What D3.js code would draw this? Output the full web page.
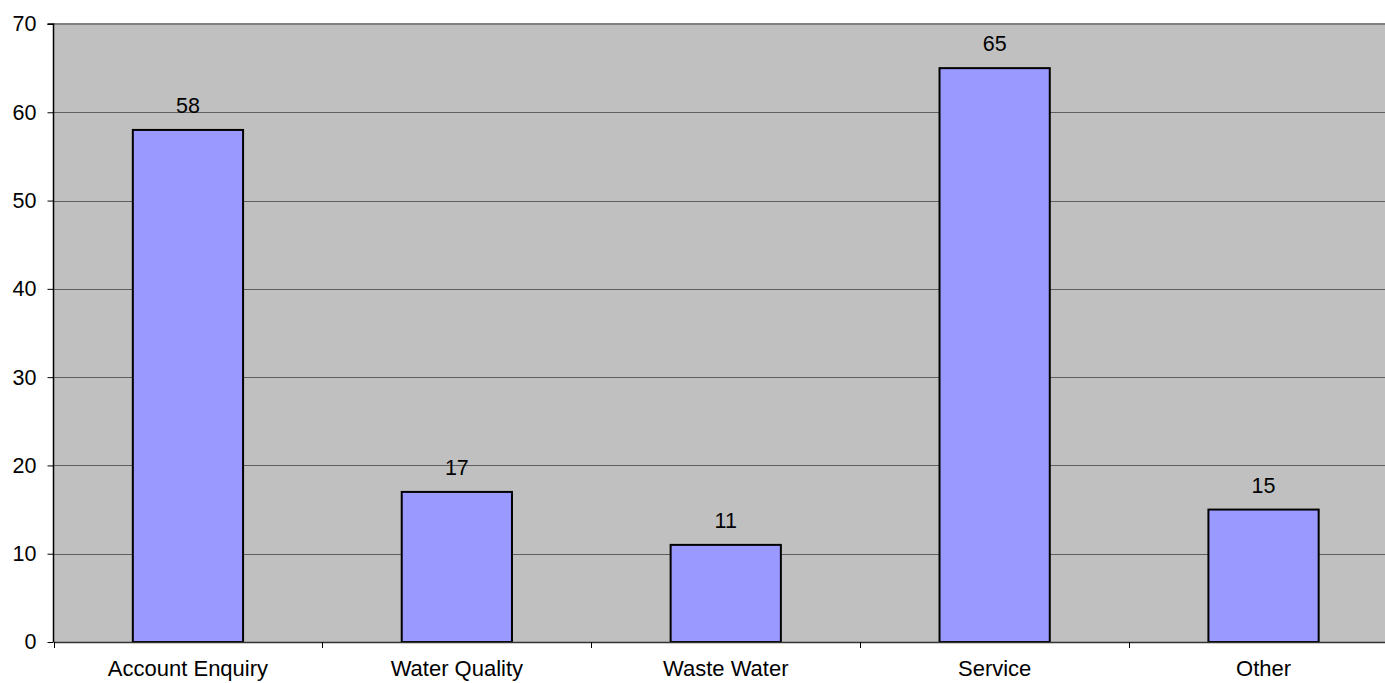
<!DOCTYPE html>
<html>
<head>
<meta charset="utf-8">
<script src="https://cdn.jsdelivr.net/npm/d3@7"></script>
<style>
  html, body { margin: 0; padding: 0; background: #ffffff; }
  svg { display: block; }
  text { font-family: "Liberation Sans", Arial, sans-serif; fill: #000; }
</style>
</head>
<body>
<svg id="chart" width="1385" height="683"></svg>
<script>
const categories = ["Account Enquiry", "Water Quality", "Waste Water", "Service", "Other"];
const values = [58, 17, 11, 65, 15];
const yTicks = [0, 10, 20, 30, 40, 50, 60, 70];

(function () {
const svg = d3.select("#chart");
const mLeft = 53.5, mRight = 1398, mTop = 24, mBottom = 642;

const x = d3.scaleBand().domain(categories).range([mLeft, mRight]).padding(0);
const y = d3.scaleLinear().domain([0, 70]).range([mBottom, mTop]);
const barW = x.bandwidth() * 0.41;

// plot background
svg.append("rect")
  .attr("x", mLeft).attr("y", mTop)
  .attr("width", mRight - mLeft).attr("height", mBottom - mTop)
  .attr("fill", "#c0c0c0");

// gridlines
svg.append("g")
  .selectAll("line")
  .data(yTicks.filter(d => d > 0 && d < 70))
  .join("line")
  .attr("x1", mLeft).attr("x2", mRight)
  .attr("y1", d => Math.round(y(d)) + 0.5).attr("y2", d => Math.round(y(d)) + 0.5)
  .attr("stroke", "#5f5f5f").attr("stroke-width", 1);

// top border
svg.append("line")
  .attr("x1", mLeft).attr("x2", mRight)
  .attr("y1", mTop).attr("y2", mTop)
  .attr("stroke", "#808080").attr("stroke-width", 2);

// bars
svg.append("g")
  .selectAll("rect")
  .data(values)
  .join("rect")
  .attr("x", (d, i) => x(categories[i]) + x.bandwidth() / 2 - barW / 2)
  .attr("y", d => y(d))
  .attr("width", barW)
  .attr("height", d => mBottom - y(d))
  .attr("fill", "#9999ff")
  .attr("stroke", "#000")
  .attr("stroke-width", 2);

// value labels
svg.append("g")
  .selectAll("text")
  .data(values)
  .join("text")
  .attr("x", (d, i) => x(categories[i]) + x.bandwidth() / 2)
  .attr("y", d => y(d) - 17)
  .attr("text-anchor", "middle")
  .attr("font-size", "21.5px")
  .text(d => d);

// y axis
const yAxis = d3.axisLeft(y).tickValues(yTicks).tickSize(6).tickPadding(11).tickFormat(d3.format("d"));
const gy = svg.append("g").attr("transform", `translate(${mLeft},0)`).call(yAxis);
gy.select(".domain").attr("stroke", "#000").attr("stroke-width", 1.5).attr("d", `M-6,${mTop}H0V${mBottom}`);
gy.selectAll(".tick line").attr("stroke", "#000");
gy.selectAll(".tick text").attr("font-size", "21.5px").attr("font-family", "Liberation Sans, Arial, sans-serif").attr("fill", "#000");

// x axis
const xAxis = d3.axisBottom(x).tickSize(0).tickPadding(18.5);
const gx = svg.append("g").attr("transform", `translate(0,${mBottom})`).call(xAxis);
gx.select(".domain").attr("stroke", "#333").attr("stroke-width", 1.5);
gx.selectAll(".tick text").attr("font-size", "22px").attr("font-family", "Liberation Sans, Arial, sans-serif").attr("fill", "#000");

// category boundary ticks
const bounds = categories.map(c => x(c)).concat([mRight]);
svg.append("g")
  .selectAll("line")
  .data(bounds)
  .join("line")
  .attr("x1", d => Math.round(d) + 0.5).attr("x2", d => Math.round(d) + 0.5)
  .attr("y1", mBottom).attr("y2", mBottom + 6)
  .attr("stroke", "#000").attr("stroke-width", 1);
})();
</script>
</body>
</html>
